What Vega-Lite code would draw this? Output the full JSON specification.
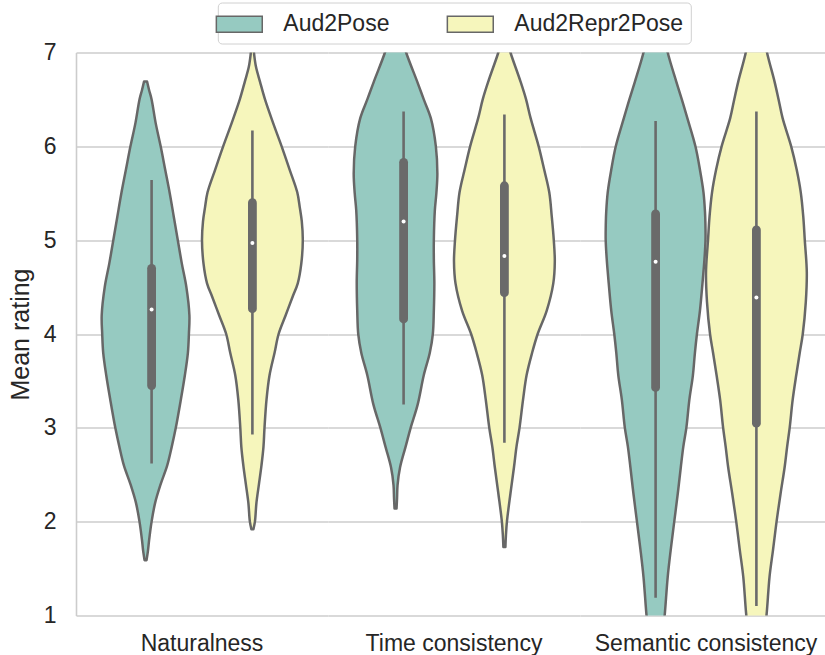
{
  "$schema": "https://vega.github.io/schema/vega-lite/v6.json",
  "background": "white",
  "padding": {"left": 8, "top": 1.5, "right": 0, "bottom": 0},
  "config": {
    "font": "Liberation Sans",
    "view": {"stroke": null},
    "axisY": {
      "grid": true, "gridColor": "#cccccc", "gridWidth": 1.3,
      "domain": true, "domainColor": "#cccccc", "domainWidth": 1.6,
      "ticks": false, "tickSize": 0, "tickCount": 6,
      "labelFontSize": 23, "labelColor": "#262626", "labelPadding": 20,
      "titleFontSize": 25, "titleFontWeight": "normal", "titleColor": "#262626", "titlePadding": 10
    }
  },
  "data": {"values": [
    {"category": "Naturalness", "group": "Aud2Pose", "rating": 1.59, "density": 0.02},
    {"category": "Naturalness", "group": "Aud2Pose", "rating": 1.7, "density": 0.05},
    {"category": "Naturalness", "group": "Aud2Pose", "rating": 1.8, "density": 0.07},
    {"category": "Naturalness", "group": "Aud2Pose", "rating": 2.0, "density": 0.12},
    {"category": "Naturalness", "group": "Aud2Pose", "rating": 2.2, "density": 0.19},
    {"category": "Naturalness", "group": "Aud2Pose", "rating": 2.4, "density": 0.30},
    {"category": "Naturalness", "group": "Aud2Pose", "rating": 2.6, "density": 0.43},
    {"category": "Naturalness", "group": "Aud2Pose", "rating": 2.8, "density": 0.52},
    {"category": "Naturalness", "group": "Aud2Pose", "rating": 3.0, "density": 0.60},
    {"category": "Naturalness", "group": "Aud2Pose", "rating": 3.3, "density": 0.70},
    {"category": "Naturalness", "group": "Aud2Pose", "rating": 3.56, "density": 0.78},
    {"category": "Naturalness", "group": "Aud2Pose", "rating": 3.8, "density": 0.84},
    {"category": "Naturalness", "group": "Aud2Pose", "rating": 4.0, "density": 0.86},
    {"category": "Naturalness", "group": "Aud2Pose", "rating": 4.2, "density": 0.87},
    {"category": "Naturalness", "group": "Aud2Pose", "rating": 4.5, "density": 0.81},
    {"category": "Naturalness", "group": "Aud2Pose", "rating": 4.75, "density": 0.72},
    {"category": "Naturalness", "group": "Aud2Pose", "rating": 5.0, "density": 0.64},
    {"category": "Naturalness", "group": "Aud2Pose", "rating": 5.25, "density": 0.56},
    {"category": "Naturalness", "group": "Aud2Pose", "rating": 5.5, "density": 0.48},
    {"category": "Naturalness", "group": "Aud2Pose", "rating": 5.75, "density": 0.39},
    {"category": "Naturalness", "group": "Aud2Pose", "rating": 6.0, "density": 0.30},
    {"category": "Naturalness", "group": "Aud2Pose", "rating": 6.25, "density": 0.20},
    {"category": "Naturalness", "group": "Aud2Pose", "rating": 6.5, "density": 0.12},
    {"category": "Naturalness", "group": "Aud2Pose", "rating": 6.6, "density": 0.07},
    {"category": "Naturalness", "group": "Aud2Pose", "rating": 6.69, "density": 0.03},

    {"category": "Naturalness", "group": "Aud2Repr2Pose", "rating": 1.92, "density": 0.02},
    {"category": "Naturalness", "group": "Aud2Repr2Pose", "rating": 2.0, "density": 0.05},
    {"category": "Naturalness", "group": "Aud2Repr2Pose", "rating": 2.2, "density": 0.08},
    {"category": "Naturalness", "group": "Aud2Repr2Pose", "rating": 2.4, "density": 0.13},
    {"category": "Naturalness", "group": "Aud2Repr2Pose", "rating": 2.6, "density": 0.18},
    {"category": "Naturalness", "group": "Aud2Repr2Pose", "rating": 2.8, "density": 0.22},
    {"category": "Naturalness", "group": "Aud2Repr2Pose", "rating": 3.0, "density": 0.24},
    {"category": "Naturalness", "group": "Aud2Repr2Pose", "rating": 3.3, "density": 0.28},
    {"category": "Naturalness", "group": "Aud2Repr2Pose", "rating": 3.56, "density": 0.34},
    {"category": "Naturalness", "group": "Aud2Repr2Pose", "rating": 3.8, "density": 0.44},
    {"category": "Naturalness", "group": "Aud2Repr2Pose", "rating": 4.0, "density": 0.52},
    {"category": "Naturalness", "group": "Aud2Repr2Pose", "rating": 4.2, "density": 0.66},
    {"category": "Naturalness", "group": "Aud2Repr2Pose", "rating": 4.4, "density": 0.80},
    {"category": "Naturalness", "group": "Aud2Repr2Pose", "rating": 4.54, "density": 0.90},
    {"category": "Naturalness", "group": "Aud2Repr2Pose", "rating": 4.75, "density": 0.97},
    {"category": "Naturalness", "group": "Aud2Repr2Pose", "rating": 5.0, "density": 1.0},
    {"category": "Naturalness", "group": "Aud2Repr2Pose", "rating": 5.2, "density": 0.98},
    {"category": "Naturalness", "group": "Aud2Repr2Pose", "rating": 5.35, "density": 0.94},
    {"category": "Naturalness", "group": "Aud2Repr2Pose", "rating": 5.51, "density": 0.89},
    {"category": "Naturalness", "group": "Aud2Repr2Pose", "rating": 5.75, "density": 0.74},
    {"category": "Naturalness", "group": "Aud2Repr2Pose", "rating": 6.0, "density": 0.58},
    {"category": "Naturalness", "group": "Aud2Repr2Pose", "rating": 6.25, "density": 0.41},
    {"category": "Naturalness", "group": "Aud2Repr2Pose", "rating": 6.5, "density": 0.25},
    {"category": "Naturalness", "group": "Aud2Repr2Pose", "rating": 6.69, "density": 0.15},
    {"category": "Naturalness", "group": "Aud2Repr2Pose", "rating": 6.85, "density": 0.07},
    {"category": "Naturalness", "group": "Aud2Repr2Pose", "rating": 7.0, "density": 0.03},
    {"category": "Naturalness", "group": "Aud2Repr2Pose", "rating": 7.1, "density": 0.01},

    {"category": "Time consistency", "group": "Aud2Pose", "rating": 2.14, "density": 0.02},
    {"category": "Time consistency", "group": "Aud2Pose", "rating": 2.25, "density": 0.03},
    {"category": "Time consistency", "group": "Aud2Pose", "rating": 2.39, "density": 0.04},
    {"category": "Time consistency", "group": "Aud2Pose", "rating": 2.58, "density": 0.09},
    {"category": "Time consistency", "group": "Aud2Pose", "rating": 2.8, "density": 0.20},
    {"category": "Time consistency", "group": "Aud2Pose", "rating": 3.0, "density": 0.30},
    {"category": "Time consistency", "group": "Aud2Pose", "rating": 3.25, "density": 0.44},
    {"category": "Time consistency", "group": "Aud2Pose", "rating": 3.56, "density": 0.56},
    {"category": "Time consistency", "group": "Aud2Pose", "rating": 3.8, "density": 0.68},
    {"category": "Time consistency", "group": "Aud2Pose", "rating": 4.0, "density": 0.74},
    {"category": "Time consistency", "group": "Aud2Pose", "rating": 4.25, "density": 0.76},
    {"category": "Time consistency", "group": "Aud2Pose", "rating": 4.54, "density": 0.77},
    {"category": "Time consistency", "group": "Aud2Pose", "rating": 4.8, "density": 0.76},
    {"category": "Time consistency", "group": "Aud2Pose", "rating": 5.0, "density": 0.76},
    {"category": "Time consistency", "group": "Aud2Pose", "rating": 5.32, "density": 0.78},
    {"category": "Time consistency", "group": "Aud2Pose", "rating": 5.5, "density": 0.81},
    {"category": "Time consistency", "group": "Aud2Pose", "rating": 5.71, "density": 0.83},
    {"category": "Time consistency", "group": "Aud2Pose", "rating": 6.0, "density": 0.80},
    {"category": "Time consistency", "group": "Aud2Pose", "rating": 6.3, "density": 0.70},
    {"category": "Time consistency", "group": "Aud2Pose", "rating": 6.5, "density": 0.56},
    {"category": "Time consistency", "group": "Aud2Pose", "rating": 6.69, "density": 0.43},
    {"category": "Time consistency", "group": "Aud2Pose", "rating": 7.0, "density": 0.21},
    {"category": "Time consistency", "group": "Aud2Pose", "rating": 7.2, "density": 0.10},
    {"category": "Time consistency", "group": "Aud2Pose", "rating": 7.4, "density": 0.03},

    {"category": "Time consistency", "group": "Aud2Repr2Pose", "rating": 1.73, "density": 0.02},
    {"category": "Time consistency", "group": "Aud2Repr2Pose", "rating": 1.85, "density": 0.03},
    {"category": "Time consistency", "group": "Aud2Repr2Pose", "rating": 2.0, "density": 0.05},
    {"category": "Time consistency", "group": "Aud2Repr2Pose", "rating": 2.3, "density": 0.12},
    {"category": "Time consistency", "group": "Aud2Repr2Pose", "rating": 2.58, "density": 0.19},
    {"category": "Time consistency", "group": "Aud2Repr2Pose", "rating": 2.8, "density": 0.24},
    {"category": "Time consistency", "group": "Aud2Repr2Pose", "rating": 3.0, "density": 0.30},
    {"category": "Time consistency", "group": "Aud2Repr2Pose", "rating": 3.3, "density": 0.37},
    {"category": "Time consistency", "group": "Aud2Repr2Pose", "rating": 3.56, "density": 0.44},
    {"category": "Time consistency", "group": "Aud2Repr2Pose", "rating": 3.8, "density": 0.55},
    {"category": "Time consistency", "group": "Aud2Repr2Pose", "rating": 4.0, "density": 0.66},
    {"category": "Time consistency", "group": "Aud2Repr2Pose", "rating": 4.25, "density": 0.84},
    {"category": "Time consistency", "group": "Aud2Repr2Pose", "rating": 4.54, "density": 0.97},
    {"category": "Time consistency", "group": "Aud2Repr2Pose", "rating": 4.77, "density": 1.0},
    {"category": "Time consistency", "group": "Aud2Repr2Pose", "rating": 5.0, "density": 0.98},
    {"category": "Time consistency", "group": "Aud2Repr2Pose", "rating": 5.25, "density": 0.94},
    {"category": "Time consistency", "group": "Aud2Repr2Pose", "rating": 5.51, "density": 0.89},
    {"category": "Time consistency", "group": "Aud2Repr2Pose", "rating": 5.75, "density": 0.79},
    {"category": "Time consistency", "group": "Aud2Repr2Pose", "rating": 6.0, "density": 0.68},
    {"category": "Time consistency", "group": "Aud2Repr2Pose", "rating": 6.3, "density": 0.52},
    {"category": "Time consistency", "group": "Aud2Repr2Pose", "rating": 6.5, "density": 0.43},
    {"category": "Time consistency", "group": "Aud2Repr2Pose", "rating": 6.69, "density": 0.32},
    {"category": "Time consistency", "group": "Aud2Repr2Pose", "rating": 7.0, "density": 0.12},
    {"category": "Time consistency", "group": "Aud2Repr2Pose", "rating": 7.15, "density": 0.04},

    {"category": "Semantic consistency", "group": "Aud2Pose", "rating": 0.6, "density": 0.10},
    {"category": "Semantic consistency", "group": "Aud2Pose", "rating": 0.8, "density": 0.14},
    {"category": "Semantic consistency", "group": "Aud2Pose", "rating": 1.0, "density": 0.18},
    {"category": "Semantic consistency", "group": "Aud2Pose", "rating": 1.41, "density": 0.24},
    {"category": "Semantic consistency", "group": "Aud2Pose", "rating": 1.7, "density": 0.30},
    {"category": "Semantic consistency", "group": "Aud2Pose", "rating": 2.0, "density": 0.37},
    {"category": "Semantic consistency", "group": "Aud2Pose", "rating": 2.3, "density": 0.44},
    {"category": "Semantic consistency", "group": "Aud2Pose", "rating": 2.58, "density": 0.50},
    {"category": "Semantic consistency", "group": "Aud2Pose", "rating": 2.8, "density": 0.55},
    {"category": "Semantic consistency", "group": "Aud2Pose", "rating": 3.0, "density": 0.61},
    {"category": "Semantic consistency", "group": "Aud2Pose", "rating": 3.3, "density": 0.67},
    {"category": "Semantic consistency", "group": "Aud2Pose", "rating": 3.56, "density": 0.74},
    {"category": "Semantic consistency", "group": "Aud2Pose", "rating": 3.8, "density": 0.78},
    {"category": "Semantic consistency", "group": "Aud2Pose", "rating": 4.0, "density": 0.82},
    {"category": "Semantic consistency", "group": "Aud2Pose", "rating": 4.25, "density": 0.88},
    {"category": "Semantic consistency", "group": "Aud2Pose", "rating": 4.54, "density": 0.93},
    {"category": "Semantic consistency", "group": "Aud2Pose", "rating": 4.8, "density": 0.97},
    {"category": "Semantic consistency", "group": "Aud2Pose", "rating": 5.0, "density": 0.99},
    {"category": "Semantic consistency", "group": "Aud2Pose", "rating": 5.12, "density": 0.99},
    {"category": "Semantic consistency", "group": "Aud2Pose", "rating": 5.3, "density": 0.98},
    {"category": "Semantic consistency", "group": "Aud2Pose", "rating": 5.51, "density": 0.95},
    {"category": "Semantic consistency", "group": "Aud2Pose", "rating": 5.75, "density": 0.88},
    {"category": "Semantic consistency", "group": "Aud2Pose", "rating": 6.0, "density": 0.79},
    {"category": "Semantic consistency", "group": "Aud2Pose", "rating": 6.3, "density": 0.63},
    {"category": "Semantic consistency", "group": "Aud2Pose", "rating": 6.5, "density": 0.52},
    {"category": "Semantic consistency", "group": "Aud2Pose", "rating": 6.69, "density": 0.41},
    {"category": "Semantic consistency", "group": "Aud2Pose", "rating": 7.0, "density": 0.24},
    {"category": "Semantic consistency", "group": "Aud2Pose", "rating": 7.3, "density": 0.12},
    {"category": "Semantic consistency", "group": "Aud2Pose", "rating": 7.6, "density": 0.04},

    {"category": "Semantic consistency", "group": "Aud2Repr2Pose", "rating": 0.6, "density": 0.10},
    {"category": "Semantic consistency", "group": "Aud2Repr2Pose", "rating": 0.8, "density": 0.15},
    {"category": "Semantic consistency", "group": "Aud2Repr2Pose", "rating": 1.0, "density": 0.20},
    {"category": "Semantic consistency", "group": "Aud2Repr2Pose", "rating": 1.41, "density": 0.26},
    {"category": "Semantic consistency", "group": "Aud2Repr2Pose", "rating": 1.7, "density": 0.33},
    {"category": "Semantic consistency", "group": "Aud2Repr2Pose", "rating": 2.0, "density": 0.40},
    {"category": "Semantic consistency", "group": "Aud2Repr2Pose", "rating": 2.3, "density": 0.48},
    {"category": "Semantic consistency", "group": "Aud2Repr2Pose", "rating": 2.58, "density": 0.56},
    {"category": "Semantic consistency", "group": "Aud2Repr2Pose", "rating": 2.8, "density": 0.61},
    {"category": "Semantic consistency", "group": "Aud2Repr2Pose", "rating": 3.0, "density": 0.66},
    {"category": "Semantic consistency", "group": "Aud2Repr2Pose", "rating": 3.3, "density": 0.72},
    {"category": "Semantic consistency", "group": "Aud2Repr2Pose", "rating": 3.56, "density": 0.79},
    {"category": "Semantic consistency", "group": "Aud2Repr2Pose", "rating": 3.8, "density": 0.86},
    {"category": "Semantic consistency", "group": "Aud2Repr2Pose", "rating": 4.0, "density": 0.92},
    {"category": "Semantic consistency", "group": "Aud2Repr2Pose", "rating": 4.34, "density": 0.98},
    {"category": "Semantic consistency", "group": "Aud2Repr2Pose", "rating": 4.66, "density": 1.0},
    {"category": "Semantic consistency", "group": "Aud2Repr2Pose", "rating": 5.0, "density": 0.96},
    {"category": "Semantic consistency", "group": "Aud2Repr2Pose", "rating": 5.25, "density": 0.93},
    {"category": "Semantic consistency", "group": "Aud2Repr2Pose", "rating": 5.51, "density": 0.88},
    {"category": "Semantic consistency", "group": "Aud2Repr2Pose", "rating": 5.75, "density": 0.80},
    {"category": "Semantic consistency", "group": "Aud2Repr2Pose", "rating": 6.0, "density": 0.69},
    {"category": "Semantic consistency", "group": "Aud2Repr2Pose", "rating": 6.3, "density": 0.52},
    {"category": "Semantic consistency", "group": "Aud2Repr2Pose", "rating": 6.5, "density": 0.44},
    {"category": "Semantic consistency", "group": "Aud2Repr2Pose", "rating": 6.69, "density": 0.36},
    {"category": "Semantic consistency", "group": "Aud2Repr2Pose", "rating": 7.0, "density": 0.21},
    {"category": "Semantic consistency", "group": "Aud2Repr2Pose", "rating": 7.3, "density": 0.10},
    {"category": "Semantic consistency", "group": "Aud2Repr2Pose", "rating": 7.6, "density": 0.03},

    {"category": "Naturalness", "group": "Aud2Pose", "lo": 2.62, "q1": 3.45, "median": 4.26, "q3": 4.70, "hi": 5.64},
    {"category": "Naturalness", "group": "Aud2Repr2Pose", "lo": 2.93, "q1": 4.27, "median": 4.97, "q3": 5.40, "hi": 6.17},
    {"category": "Time consistency", "group": "Aud2Pose", "lo": 3.25, "q1": 4.16, "median": 5.20, "q3": 5.83, "hi": 6.37},
    {"category": "Time consistency", "group": "Aud2Repr2Pose", "lo": 2.84, "q1": 4.44, "median": 4.83, "q3": 5.58, "hi": 6.34},
    {"category": "Semantic consistency", "group": "Aud2Pose", "lo": 1.19, "q1": 3.43, "median": 4.77, "q3": 5.28, "hi": 6.27},
    {"category": "Semantic consistency", "group": "Aud2Repr2Pose", "lo": 1.10, "q1": 3.05, "median": 4.39, "q3": 5.11, "hi": 6.37}
  ]},
  "facet": {
    "column": {
      "field": "category", "type": "nominal",
      "sort": ["Naturalness", "Time consistency", "Semantic consistency"],
      "header": {"title": null, "labelOrient": "bottom", "labelFontSize": 23, "labelColor": "#262626", "labelPadding": 17}
    }
  },
  "spacing": 0,
  "spec": {
    "width": 252,
    "height": 563,
    "resolve": {"scale": {"x": "independent"}},
    "layer": [
      {
        "transform": [{"filter": "datum.group === 'Aud2Pose'"}],
        "layer": [
          {
            "transform": [{"filter": "isValid(datum.density)"}],
            "mark": {"type": "area", "orient": "horizontal", "interpolate": "catmull-rom", "clip": true, "stroke": "#676767", "strokeWidth": 2.5, "strokeJoin": "round", "opacity": 1},
            "encoding": {
              "y": {"field": "rating", "type": "quantitative", "title": "Mean rating", "scale": {"domain": [1, 7], "nice": false, "zero": false}},
              "x": {"field": "density", "type": "quantitative", "stack": "center", "impute": null, "axis": null, "scale": {"domain": [-0.255, 2.245], "nice": false, "zero": false}},
              "color": {
                "field": "group", "type": "nominal",
                "scale": {"domain": ["Aud2Pose", "Aud2Repr2Pose"], "range": ["#96cac1", "#f6f6bc"]},
                "legend": {
                  "title": null, "orient": "none", "legendX": 141.8, "legendY": -50, "direction": "horizontal",
                  "symbolType": "M-1.7,-0.6H1.7V0.6H-1.7Z", "symbolSize": 729,
                  "labelFontSize": 23, "labelColor": "#262626", "labelOffset": 29.5, "labelLimit": 400,
                  "columnPadding": 54, "padding": 7,
                  "strokeColor": "#d0d0d0", "fillColor": "white", "cornerRadius": 4,
                  "encode": {"symbols": {"update": {"stroke": {"value": "#6a6a6a"}, "strokeWidth": {"value": 1.3}, "opacity": {"value": 1}}}}
                }
              }
            }
          },
          {
            "transform": [{"filter": "isValid(datum.median)"}],
            "mark": {"type": "rule", "color": "#6a6a6a", "strokeWidth": 2.6},
            "encoding": {
              "x": {"datum": 0.495, "type": "quantitative"},
              "y": {"field": "lo", "type": "quantitative", "title": "Mean rating"},
              "y2": {"field": "hi"}
            }
          },
          {
            "transform": [{"filter": "isValid(datum.median)"}],
            "mark": {"type": "rule", "color": "#6a6a6a", "strokeWidth": 8.8, "strokeCap": "round"},
            "encoding": {
              "x": {"datum": 0.495, "type": "quantitative"},
              "y": {"field": "q1", "type": "quantitative", "title": "Mean rating"},
              "y2": {"field": "q3"}
            }
          },
          {
            "transform": [{"filter": "isValid(datum.median)"}],
            "mark": {"type": "point", "filled": true, "color": "white", "size": 16, "opacity": 1},
            "encoding": {
              "x": {"datum": 0.495, "type": "quantitative"},
              "y": {"field": "median", "type": "quantitative", "title": "Mean rating"}
            }
          }
        ]
      },
      {
        "transform": [{"filter": "datum.group === 'Aud2Repr2Pose'"}],
        "layer": [
          {
            "transform": [{"filter": "isValid(datum.density)"}],
            "mark": {"type": "area", "orient": "horizontal", "interpolate": "catmull-rom", "clip": true, "stroke": "#676767", "strokeWidth": 2.5, "strokeJoin": "round", "opacity": 1},
            "encoding": {
              "y": {"field": "rating", "type": "quantitative", "title": "Mean rating"},
              "x": {"field": "density", "type": "quantitative", "stack": "center", "impute": null, "axis": null, "scale": {"domain": [-1.25, 1.25], "nice": false, "zero": false}},
              "color": {"field": "group", "type": "nominal"}
            }
          },
          {
            "transform": [{"filter": "isValid(datum.median)"}],
            "mark": {"type": "rule", "color": "#6a6a6a", "strokeWidth": 2.6},
            "encoding": {
              "x": {"datum": 0.5, "type": "quantitative"},
              "y": {"field": "lo", "type": "quantitative", "title": "Mean rating"},
              "y2": {"field": "hi"}
            }
          },
          {
            "transform": [{"filter": "isValid(datum.median)"}],
            "mark": {"type": "rule", "color": "#6a6a6a", "strokeWidth": 8.8, "strokeCap": "round"},
            "encoding": {
              "x": {"datum": 0.5, "type": "quantitative"},
              "y": {"field": "q1", "type": "quantitative", "title": "Mean rating"},
              "y2": {"field": "q3"}
            }
          },
          {
            "transform": [{"filter": "isValid(datum.median)"}],
            "mark": {"type": "point", "filled": true, "color": "white", "size": 16, "opacity": 1},
            "encoding": {
              "x": {"datum": 0.5, "type": "quantitative"},
              "y": {"field": "median", "type": "quantitative", "title": "Mean rating"}
            }
          }
        ]
      }
    ]
  }
}
